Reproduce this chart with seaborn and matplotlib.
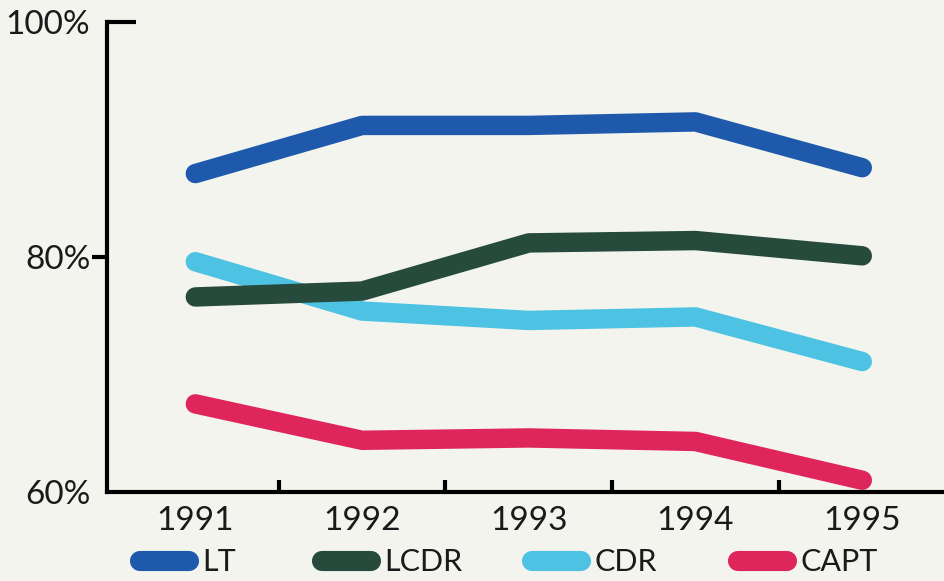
import matplotlib
matplotlib.use("Agg")
import matplotlib.pyplot as plt
from matplotlib.lines import Line2D
import seaborn as sns
import pandas as pd

years = [1991, 1992, 1993, 1994, 1995]
ranks = ["LT", "LCDR", "CDR", "CAPT"]
lt = [87.1, 91.2, 91.2, 91.5, 87.6]
lcdr = [76.6, 77.1, 81.2, 81.4, 80.1]
cdr = [79.6, 75.4, 74.6, 74.9, 71.1]
capt = [67.5, 64.4, 64.6, 64.3, 61.0]
y_ticks = [60, 80, 100]
y_labels = ["60%", "80%", "100%"]

colors = {"LT": "#1f59ac", "LCDR": "#264b3d", "CDR": "#4dc2e3", "CAPT": "#de265b"}
series = {"LT": lt, "LCDR": lcdr, "CDR": cdr, "CAPT": capt}

df = pd.DataFrame(
    [(y, r, v) for r in ranks for y, v in zip(years, series[r])],
    columns=["year", "rank", "pct"],
)

sns.set_theme(style="white")
plt.rcParams["font.family"] = ["Lato", "DejaVu Sans"]
text_color = "#1a1a1a"
bg = "#f4f4ef"

fig = plt.figure(figsize=(9.44, 5.81), dpi=100, facecolor=bg)
ax = fig.add_axes([0.1133, 0.1532, 0.8867, 0.8089], facecolor=bg)

# draw back to front so LCDR sits above CDR where they cross
for r in ["CAPT", "CDR", "LCDR", "LT"]:
    sns.lineplot(data=df[df["rank"] == r], x="year", y="pct", color=colors[r],
                 linewidth=14, ax=ax, legend=False,
                 solid_capstyle="round", solid_joinstyle="round")

ax.set_xlim(1990.47, 1995.49)
ax.set_ylim(60, 100)
ax.set_xlabel("")
ax.set_ylabel("")

for s in ["top", "right"]:
    ax.spines[s].set_visible(False)
for s in ["left", "bottom"]:
    ax.spines[s].set_color("black")
    ax.spines[s].set_linewidth(3)
    ax.spines[s].set_capstyle("projecting")

ax.set_xticks(years)
ax.set_xticklabels([str(y) for y in years])
ax.set_xticks([1991.5, 1992.5, 1993.5, 1994.5], minor=True)
ax.tick_params(axis="x", which="major", length=0, pad=10, labelsize=24, labelcolor=text_color)
ax.tick_params(axis="x", which="minor", direction="in", length=9, width=3, color="black", bottom=True)

ax.yaxis.remove_overlapping_locs = False
ax.set_yticks(y_ticks)
ax.set_yticklabels(y_labels)
ax.set_yticks([100], minor=True)
ax.tick_params(axis="y", which="major", direction="out", length=11, width=3, color="black",
               pad=1, labelsize=24, labelcolor=text_color, left=True)
ax.tick_params(axis="y", which="minor", direction="in", length=21, width=3, color="black", left=True)
ticks = ax.yaxis.get_major_ticks()
ticks[0].tick1line.set_visible(False)
ticks[2].tick1line.set_visible(False)
ax.grid(False)

# one key per rank, each placed along the bottom edge
key_x = [140, 322, 532, 738]
for r, x0 in zip(ranks, key_x):
    h = Line2D([0], [0], color=colors[r], linewidth=14.5, solid_capstyle="round")
    fig.legend([h], [r], loc="center left", bbox_to_anchor=(x0 / 944, 0.032),
               frameon=False, handlelength=1.6, handletextpad=0.45,
               borderpad=0, borderaxespad=0, labelcolor=text_color,
               prop={"size": 22})

fig.savefig("out.png", dpi=100, facecolor=bg)
